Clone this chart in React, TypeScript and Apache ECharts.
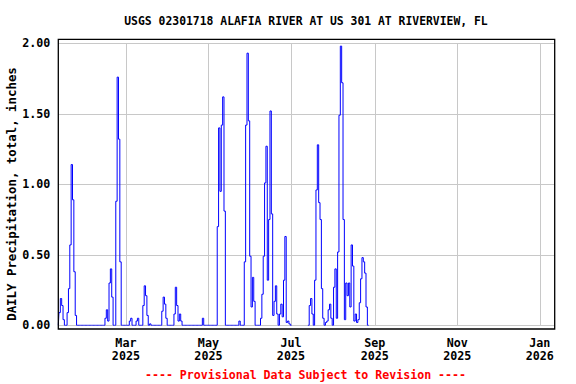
import React, { useEffect, useRef } from "react";
import * as echarts from "echarts";

// ---- data ----
const TITLE = "USGS 02301718 ALAFIA RIVER AT US 301 AT RIVERVIEW, FL";
const Y_NAME = "DAILY Precipitation, total, inches";
const FOOTER = "---- Provisional Data Subject to Revision ----";

const AXIS_START = "2025-01-10";
const AXIS_DAYS = 368;

// periods with recorded values (gap in early July, no data after late August)
const periodStarts = ["2025-01-10", "2025-07-14"];
const periodEnds = ["2025-07-01", "2025-08-27"];

// days with measurable rain (other recorded days are 0.00)
const rainDates = [
  "2025-01-11", "2025-01-12", "2025-01-13", "2025-01-14", "2025-01-17", "2025-01-18", "2025-01-19", "2025-01-20", "2025-01-21", "2025-01-22", "2025-01-23",
  "2025-02-14", "2025-02-15", "2025-02-16", "2025-02-17", "2025-02-18", "2025-02-19", "2025-02-22", "2025-02-23", "2025-02-24", "2025-02-25",
  "2025-03-04", "2025-03-05", "2025-03-09", "2025-03-10", "2025-03-14", "2025-03-15", "2025-03-16", "2025-03-17", "2025-03-19", "2025-03-28", "2025-03-29", "2025-03-30", "2025-03-31",
  "2025-04-06", "2025-04-07", "2025-04-08", "2025-04-09", "2025-04-10", "2025-04-11", "2025-04-27",
  "2025-05-08", "2025-05-09", "2025-05-10", "2025-05-11", "2025-05-12", "2025-05-13", "2025-05-24", "2025-05-28", "2025-05-29", "2025-05-30", "2025-05-31",
  "2025-06-01", "2025-06-02", "2025-06-03", "2025-06-04", "2025-06-09", "2025-06-10", "2025-06-11", "2025-06-12", "2025-06-13", "2025-06-14", "2025-06-15", "2025-06-16", "2025-06-17", "2025-06-18", "2025-06-19", "2025-06-20", "2025-06-21", "2025-06-23", "2025-06-24", "2025-06-25", "2025-06-26", "2025-06-27", "2025-06-28", "2025-06-29", "2025-06-30",
  "2025-07-15", "2025-07-16", "2025-07-17", "2025-07-19", "2025-07-20", "2025-07-21", "2025-07-22", "2025-07-23", "2025-07-24", "2025-07-25", "2025-07-27", "2025-07-28", "2025-07-29", "2025-07-30", "2025-07-31",
  "2025-08-02", "2025-08-03", "2025-08-04", "2025-08-05", "2025-08-06", "2025-08-07", "2025-08-08", "2025-08-09", "2025-08-10", "2025-08-11", "2025-08-12", "2025-08-13", "2025-08-14", "2025-08-15", "2025-08-16", "2025-08-17", "2025-08-18", "2025-08-19", "2025-08-20", "2025-08-21", "2025-08-22", "2025-08-23", "2025-08-24", "2025-08-25", "2025-08-26",
];
const rainInches = [
  0.09, 0.19, 0.14, 0.04, 0.09, 0.26, 0.57, 1.14, 0.89, 0.38, 0.07,
  0.05, 0.11, 0.03, 0.30, 0.40, 0.20, 0.88, 1.76, 1.32, 0.45,
  0.03, 0.05, 0.03, 0.05, 0.14, 0.28, 0.21, 0.07, 0.01, 0.10, 0.20, 0.15, 0.05,
  0.08, 0.27, 0.14, 0.03, 0.08, 0.03, 0.05,
  0.70, 1.40, 0.95, 1.42, 1.62, 0.81, 0.03, 0.45, 1.42, 1.93, 1.45,
  0.49, 0.13, 0.34, 0.17, 0.05, 0.22, 0.49, 1.01, 1.27, 0.32, 0.75, 1.52, 0.79, 0.07, 0.17, 0.28, 0.08, 0.08, 0.15, 0.06, 0.32, 0.63, 0.02, 0.03, 0.01,
  0.14, 0.19, 0.08, 0.32, 0.96, 1.28, 0.87, 0.75, 0.26, 0.05, 0.02, 0.03, 0.11, 0.15, 0.05,
  0.27, 0.40, 0.05, 0.52, 1.49, 1.98, 1.72, 0.75, 0.04, 0.30, 0.21, 0.30, 0.13, 0.57, 0.42, 0.03, 0.08, 0.02, 0.04, 0.16, 0.33, 0.48, 0.45, 0.37, 0.13,
];

const yTicks = [0, 0.5, 1.0, 1.5, 2.0];
const monthNames = ["Jan", "Feb", "Mar", "Apr", "May", "Jun", "Jul", "Aug", "Sep", "Oct", "Nov", "Dec"];
const labelMonths = ["Jan", "Mar", "May", "Jul", "Sep", "Nov"];

const DAY_MS = 86400000;
const toMs = (s: string) => Date.parse(s + "T00:00:00Z");
const toStr = (ms: number) => new Date(ms).toISOString().slice(0, 10);

function buildCategories(): string[] {
  const start = toMs(AXIS_START);
  const out: string[] = [];
  for (let i = 0; i < AXIS_DAYS; i++) out.push(toStr(start + i * DAY_MS));
  return out;
}

function buildSeries(categories: string[]): (number | null)[] {
  const rain: Record<string, number> = {};
  rainDates.forEach((d, i) => (rain[d] = rainInches[i]));
  return categories.map((d) => {
    const t = toMs(d);
    const recorded = periodStarts.some((s, i) => t >= toMs(s) && t <= toMs(periodEnds[i]));
    if (!recorded) return null;
    return rain[d] !== undefined ? rain[d] : 0;
  });
}

const isLabelDay = (value: string) => {
  const d = new Date(value + "T00:00:00Z");
  return d.getUTCDate() === 1 && labelMonths.includes(monthNames[d.getUTCMonth()]);
};

const FONT = "'DejaVu Sans Mono', 'Liberation Mono', monospace";

export default function App() {
  const ref = useRef<HTMLDivElement>(null);

  useEffect(() => {
    if (!ref.current) return;
    const chart = echarts.init(ref.current, undefined, { renderer: "svg" });
    const categories = buildCategories();
    const values = buildSeries(categories);

    const gridLeft = 58.3;
    const gridRight = 576 - 554.7;
    const gridTop = 43.3;
    const gridBottom = 384 - 325.3;

    chart.setOption({
      animation: false,
      backgroundColor: "#ffffff",
      grid: { left: gridLeft, right: gridRight, top: gridTop, bottom: gridBottom, containLabel: false },
      xAxis: {
        type: "category",
        data: categories,
        boundaryGap: false,
        axisLine: { show: false },
        axisTick: { show: false },
        axisLabel: {
          interval: (_i: number, v: string) => isLabelDay(v),
          formatter: (v: string) => {
            const d = new Date(v + "T00:00:00Z");
            return monthNames[d.getUTCMonth()] + "\n" + d.getUTCFullYear();
          },
          color: "#000",
          fontFamily: FONT,
          fontWeight: "bold",
          fontSize: 11.7,
          lineHeight: 13,
          margin: 11,
        },
        splitLine: {
          show: true,
          interval: (_i: number, v: string) => isLabelDay(v),
          lineStyle: { color: "#c8c8c8", width: 1 },
        },
      },
      yAxis: {
        type: "value",
        min: yTicks[0],
        max: yTicks[yTicks.length - 1],
        interval: yTicks[1] - yTicks[0],
        axisLine: { show: false },
        axisTick: { show: false },
        axisLabel: {
          formatter: (v: number) => v.toFixed(2),
          color: "#000",
          fontFamily: FONT,
          fontWeight: "bold",
          fontSize: 11.7,
          margin: 8,
        },
        splitLine: { show: true, lineStyle: { color: "#c8c8c8", width: 1 } },
      },
      series: [
        {
          type: "line",
          data: values,
          step: "middle",
          showSymbol: false,
          connectNulls: false,
          lineStyle: { color: "#0000ff", width: 1 },
          itemStyle: { color: "#0000ff" },
        },
      ],
      graphic: [
        {
          type: "rect",
          shape: { x: 58.3, y: 39.3, width: 496.4, height: 289.7 },
          style: { fill: "none", stroke: "#000", lineWidth: 1.3 },
          silent: true,
          z: 10,
        },
        {
          type: "text",
          x: 306,
          y: 21,
          style: {
            text: TITLE,
            fill: "#000",
            font: `bold 11.4px ${FONT}`,
            textAlign: "center",
            textVerticalAlign: "middle",
          },
        },
        {
          type: "text",
          x: 11.7,
          y: 194,
          rotation: Math.PI / 2,
          style: {
            text: Y_NAME,
            fill: "#000",
            font: `bold 12.4px ${FONT}`,
            textAlign: "center",
            textVerticalAlign: "middle",
          },
        },
        {
          type: "text",
          x: 305.5,
          y: 375,
          style: {
            text: FOOTER,
            fill: "#ff0000",
            font: `bold 11.6px ${FONT}`,
            textAlign: "center",
            textVerticalAlign: "middle",
          },
        },
      ],
    });

    return () => chart.dispose();
  }, []);

  return (
    <div
      ref={ref}
      style={{ position: "fixed", left: 0, top: 0, width: 576, height: 384, background: "#fff" }}
    />
  );
}
